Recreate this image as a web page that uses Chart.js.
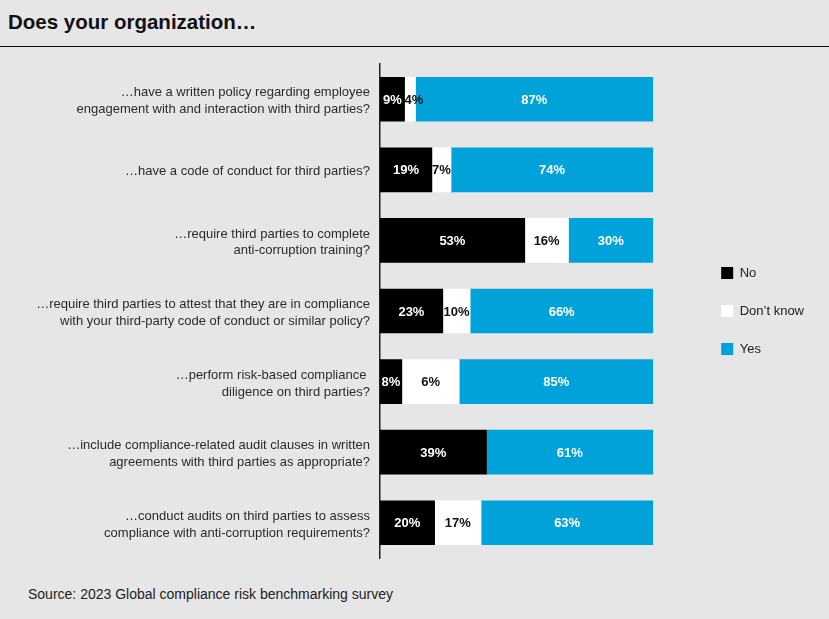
<!DOCTYPE html>
<html>
<head>
<meta charset="utf-8">
<script src="https://cdn.jsdelivr.net/npm/chart.js@4.4.1/dist/chart.umd.min.js"></script>
<style>
  html, body { margin: 0; padding: 0; }
  body { width: 829px; height: 619px; background: #e6e6e6; position: relative; overflow: hidden;
         font-family: "Liberation Sans", Arial, sans-serif; color: #111; }
  #title { position: absolute; left: 8px; top: 12px; font-size: 20.5px; line-height: 20px; font-weight: bold; }
  #rule { position: absolute; left: 0; top: 46px; width: 829px; height: 1px; background: #111; }
  #wrap { position: absolute; left: 0; top: 50px; width: 829px; height: 520px; }
  #source { position: absolute; left: 28px; top: 587px; font-size: 14px; line-height: 14px; color: #222; }
</style>
</head>
<body>
<div id="title">Does your organization…</div>
<div id="rule"></div>
<div id="wrap"><canvas id="surveyChart"></canvas></div>
<div id="source">Source: 2023 Global compliance risk benchmarking survey</div>
<script>
const questions = [
    ['…have a written policy regarding employee', 'engagement with and interaction with third parties?'],
    '…have a code of conduct for third parties?',
    ['…require third parties to complete', 'anti-corruption training?'],
    ['…require third parties to attest that they are in compliance', 'with your third-party code of conduct or similar policy?'],
    ['…perform risk-based compliance ', 'diligence on third parties?'],
    ['…include compliance-related audit clauses in written', 'agreements with third parties as appropriate?'],
    ['…conduct audits on third parties to assess', 'compliance with anti-corruption requirements?']
];

// bar lengths as drawn in the picture
const noVals  = [9, 19, 53, 23, 8, 39, 20];
const dkVals  = [4, 7, 16, 10, 21, 0, 17];
const yesVals = [87, 74, 31, 67, 71, 61, 63];

// percentages as printed on the bars
const noText  = ['9%', '19%', '53%', '23%', '8%', '39%', '20%'];
const dkText  = ['4%', '7%', '16%', '10%', '6%', '', '17%'];
const yesText = ['87%', '74%', '30%', '66%', '85%', '61%', '63%'];

const barLabels = {
    id: 'barLabels',
    afterDatasetsDraw(chart) {
        const ctx = chart.ctx;
        const texts = [noText, dkText, yesText];
        const colors = ['#fff', '#111', '#fff'];
        ctx.save();
        ctx.font = 'bold 13px "Liberation Sans", Arial, sans-serif';
        ctx.textAlign = 'center';
        ctx.textBaseline = 'middle';
        chart.data.datasets.forEach((ds, di) => {
            const meta = chart.getDatasetMeta(di);
            meta.data.forEach((bar, i) => {
                const t = texts[di][i];
                if (!t) return;
                const w = ctx.measureText(t).width;
                const seg = bar.x - bar.base;
                // too narrow: start the text at the segment's left edge
                const cx = w > seg + 2 ? bar.base + w / 2 : (bar.x + bar.base) / 2;
                ctx.fillStyle = colors[di];
                ctx.fillText(t, cx, bar.y + 1);
            });
        });
        ctx.restore();
    }
};

const ctx = document.getElementById('surveyChart').getContext('2d');
const surveyChart = new Chart(ctx, {
    type: 'bar',
    data: {
        labels: questions,
        datasets: [
            { label: 'No', data: noVals, backgroundColor: '#000', borderWidth: 0, barThickness: 44 },
            { label: 'Don’t know', data: dkVals, backgroundColor: '#fff', borderWidth: 0, barThickness: 44 },
            { label: 'Yes', data: yesVals, backgroundColor: '#00a3d9', borderWidth: 0, barThickness: 44 }
        ]
    },
    options: {
        indexAxis: 'y',
        responsive: true,
        maintainAspectRatio: false,
        animation: false,
        layout: { padding: { top: 14, bottom: 12, left: 0, right: 15 } },
        plugins: {
            legend: {
                position: 'right',
                labels: {
                    boxWidth: 12,
                    boxHeight: 12,
                    padding: 25,
                    color: '#222',
                    font: { family: '"Liberation Sans", Arial, sans-serif', size: 13 }
                }
            },
            tooltip: { enabled: false }
        },
        scales: {
            x: { stacked: true, min: 0, max: 100, display: false },
            y: {
                stacked: true,
                grid: { display: false, drawTicks: false },
                border: { display: true, color: '#222', width: 1.5 },
                ticks: {
                    padding: 10,
                    labelOffset: 2,
                    color: '#2b2b2b',
                    font: { family: '"Liberation Sans", Arial, sans-serif', size: 13, lineHeight: 1.3 }
                },
                afterFit(scale) {
                    scale.width = 380;
                    scale.paddingTop = 0;
                    scale.paddingBottom = 0;
                }
            },
            gap: {
                type: 'linear',
                position: 'right',
                display: true,
                grid: { display: false, drawTicks: false },
                border: { display: false },
                ticks: { display: false },
                afterFit(scale) { scale.width = 43; }
            }
        }
    },
    plugins: [barLabels]
});
</script>
</body>
</html>
